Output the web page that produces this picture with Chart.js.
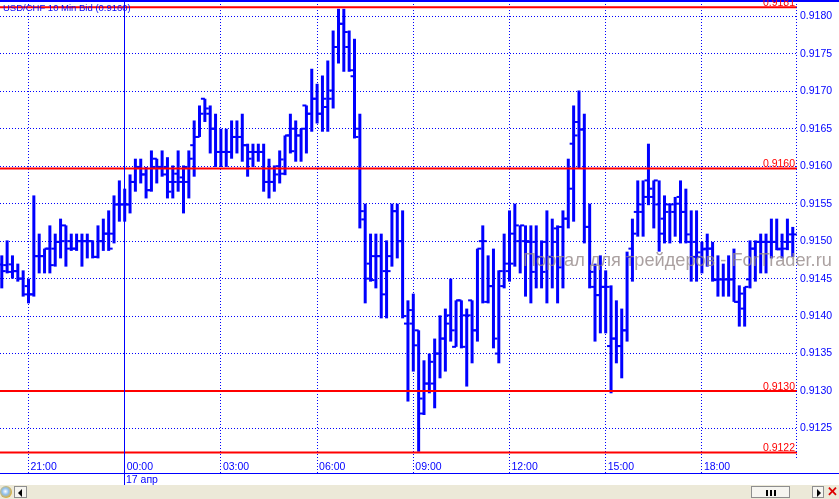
<!DOCTYPE html>
<html lang="ru">
<head>
<meta charset="UTF-8">
<title>USD/CHF 10 Min Bid</title>
<script src="https://cdn.jsdelivr.net/npm/chart.js@4"></script>
<style>
  html, body { margin: 0; padding: 0; background: #fff; }
  #wrap { position: relative; width: 839px; height: 499px; overflow: hidden; background: #fff; }
  #chart { position: absolute; left: 0; top: 0; }
  #bar { position: absolute; left: 0; top: 485px; width: 839px; height: 14px; background: #ece9d8; }
  #bar div { position: absolute; box-sizing: border-box; }
  .globe { left: 0; top: 1px; width: 12px; height: 12px; border-radius: 50%;
           background: radial-gradient(circle at 45% 45%, #fff 0, #8fc0ee 35%, #e6ac1c 75%); }
  .btn { top: 1px; height: 12px; border: 1px solid #8e8e8e; background: #f6f5f0; }
  .tri { position: absolute; top: 2px; width: 0; height: 0;
         border-top: 4px solid transparent; border-bottom: 4px solid transparent; }
  .tri.l { left: 3px; border-right: 4px solid #000; }
  .tri.r { left: 4px; border-left: 4px solid #000; }
  .grip { position: absolute; top: 3px; width: 2px; height: 6px; background: #000; }
  .close { left: 826px; top: 0; width: 13px; height: 14px; color: #d00;
           font: bold 13px/14px "Liberation Sans", Arial, sans-serif; text-align: center; }
</style>
</head>
<body>
<div id="wrap">
  <canvas id="chart" width="839" height="485"></canvas>
  <div id="bar">
    <div class="globe"></div>
    <div class="btn" style="left:14px;width:13px"><span class="tri l"></span></div>
    <div class="btn" style="left:751px;width:39px">
      <span class="grip" style="left:14px"></span><span class="grip" style="left:18px"></span><span class="grip" style="left:22px"></span>
    </div>
    <div class="btn" style="left:812px;width:12px"><span class="tri r"></span></div>
    <div class="close">✕</div>
  </div>
</div>

<script>
  const BLUE = '#0000ff';
  const RED = '#ff0000';
  const FONT = '"Liberation Sans", Arial, sans-serif';

  // 10 minute bars; slot 0 is 21:00, the first bar is at 20:10
  const FIRST_SLOT = -5;

  const opens = [
    0.91469, 0.91468, 0.91469, 0.91460, 0.91450, 0.91440,
    0.91429, 0.91480, 0.91480, 0.91490, 0.91490, 0.91499, 0.91521, 0.91500, 0.91490, 0.91500,
    0.91500, 0.91500, 0.91479, 0.91500, 0.91510, 0.91510, 0.91549, 0.91549, 0.91549, 0.91579,
    0.91599, 0.91589, 0.91568, 0.91610, 0.91599, 0.91599, 0.91579, 0.91590, 0.91585, 0.91579,
    0.91628, 0.91639, 0.91690, 0.91670, 0.91650, 0.91619, 0.91619, 0.91619, 0.91639, 0.91639,
    0.91628, 0.91619, 0.91619, 0.91619, 0.91579, 0.91579, 0.91600, 0.91590, 0.91641, 0.91650,
    0.91641, 0.91681, 0.91670, 0.91690, 0.91670, 0.91679, 0.91701, 0.91759, 0.91790, 0.91759,
    0.91720, 0.91650, 0.91529, 0.91470, 0.91480, 0.91480, 0.91460, 0.91480, 0.91540, 0.91500,
    0.91390, 0.91390, 0.91381, 0.91270, 0.91310, 0.91310, 0.91350, 0.91370, 0.91401, 0.91359,
    0.91421, 0.91401, 0.91421, 0.91381, 0.91500, 0.91419, 0.91440, 0.91350, 0.91440, 0.91460,
    0.91510, 0.91500, 0.91500, 0.91499, 0.91499, 0.91479, 0.91499, 0.91479, 0.91517, 0.91519,
    0.91530, 0.91630, 0.91659, 0.91649, 0.91519, 0.91439, 0.91428, 0.91439, 0.91360, 0.91370,
    0.91360, 0.91381, 0.91490, 0.91539, 0.91539, 0.91581, 0.91559, 0.91549, 0.91530, 0.91549,
    0.91539, 0.91559, 0.91539, 0.91499, 0.91499, 0.91479, 0.91490, 0.91490, 0.91449, 0.91449,
    0.91449, 0.91449, 0.91419, 0.91410, 0.91449, 0.91490, 0.91499, 0.91499, 0.91499, 0.91499,
    0.91490, 0.91499, 0.91509
  ];
  const highs = [
    0.91481, 0.91501, 0.91481, 0.91470, 0.91461, 0.91450,
    0.91561, 0.91510, 0.91490, 0.91521, 0.91510, 0.91530, 0.91521, 0.91510, 0.91510, 0.91510,
    0.91510, 0.91501, 0.91521, 0.91530, 0.91541, 0.91561, 0.91581, 0.91570, 0.91589, 0.91610,
    0.91610, 0.91599, 0.91621, 0.91610, 0.91621, 0.91612, 0.91601, 0.91621, 0.91601, 0.91621,
    0.91661, 0.91681, 0.91690, 0.91681, 0.91670, 0.91650, 0.91650, 0.91661, 0.91661, 0.91670,
    0.91630, 0.91630, 0.91630, 0.91630, 0.91610, 0.91601, 0.91621, 0.91641, 0.91670, 0.91661,
    0.91650, 0.91681, 0.91730, 0.91710, 0.91721, 0.91741, 0.91781, 0.91810, 0.91810, 0.91781,
    0.91770, 0.91670, 0.91550, 0.91510, 0.91510, 0.91510, 0.91501, 0.91550, 0.91550, 0.91541,
    0.91421, 0.91430, 0.91381, 0.91341, 0.91350, 0.91370, 0.91401, 0.91410, 0.91450, 0.91421,
    0.91421, 0.91410, 0.91421, 0.91490, 0.91521, 0.91481, 0.91490, 0.91461, 0.91510, 0.91541,
    0.91550, 0.91521, 0.91521, 0.91521, 0.91521, 0.91501, 0.91541, 0.91530, 0.91521, 0.91541,
    0.91610, 0.91681, 0.91701, 0.91670, 0.91550, 0.91470, 0.91481, 0.91461, 0.91441, 0.91421,
    0.91410, 0.91486, 0.91530, 0.91581, 0.91581, 0.91630, 0.91581, 0.91581, 0.91561, 0.91550,
    0.91559, 0.91581, 0.91570, 0.91541, 0.91541, 0.91499, 0.91510, 0.91499, 0.91481, 0.91470,
    0.91481, 0.91490, 0.91441, 0.91439, 0.91501, 0.91501, 0.91510, 0.91510, 0.91530, 0.91530,
    0.91510, 0.91530, 0.91519
  ];
  const lows = [
    0.91437, 0.91457, 0.91450, 0.91446, 0.91426, 0.91417,
    0.91426, 0.91457, 0.91457, 0.91457, 0.91466, 0.91477, 0.91466, 0.91487, 0.91487, 0.91466,
    0.91477, 0.91477, 0.91477, 0.91487, 0.91487, 0.91497, 0.91526, 0.91526, 0.91537, 0.91566,
    0.91577, 0.91557, 0.91566, 0.91577, 0.91586, 0.91557, 0.91557, 0.91566, 0.91537, 0.91557,
    0.91586, 0.91639, 0.91659, 0.91617, 0.91599, 0.91599, 0.91599, 0.91610, 0.91617, 0.91606,
    0.91586, 0.91599, 0.91606, 0.91566, 0.91557, 0.91566, 0.91577, 0.91588, 0.91617, 0.91606,
    0.91606, 0.91617, 0.91646, 0.91657, 0.91646, 0.91646, 0.91677, 0.91737, 0.91726, 0.91726,
    0.91637, 0.91517, 0.91417, 0.91446, 0.91437, 0.91397, 0.91397, 0.91466, 0.91477, 0.91397,
    0.91286, 0.91326, 0.91219, 0.91268, 0.91297, 0.91277, 0.91317, 0.91326, 0.91366, 0.91359,
    0.91357, 0.91306, 0.91337, 0.91366, 0.91417, 0.91417, 0.91357, 0.91337, 0.91437, 0.91446,
    0.91466, 0.91457, 0.91426, 0.91417, 0.91437, 0.91437, 0.91417, 0.91437, 0.91417, 0.91437,
    0.91517, 0.91526, 0.91597, 0.91497, 0.91437, 0.91366, 0.91377, 0.91377, 0.91297, 0.91337,
    0.91317, 0.91366, 0.91446, 0.91506, 0.91506, 0.91548, 0.91517, 0.91486, 0.91497, 0.91497,
    0.91506, 0.91497, 0.91497, 0.91446, 0.91446, 0.91457, 0.91466, 0.91446, 0.91426, 0.91426,
    0.91426, 0.91419, 0.91386, 0.91386, 0.91437, 0.91446, 0.91457, 0.91457, 0.91477, 0.91488,
    0.91477, 0.91488, 0.91479
  ];
  const closes = [
    0.91460, 0.91459, 0.91460, 0.91450, 0.91429, 0.91429,
    0.91480, 0.91480, 0.91490, 0.91468, 0.91499, 0.91500, 0.91490, 0.91490, 0.91500, 0.91500,
    0.91500, 0.91479, 0.91500, 0.91510, 0.91490, 0.91549, 0.91549, 0.91549, 0.91579, 0.91599,
    0.91589, 0.91568, 0.91599, 0.91599, 0.91589, 0.91566, 0.91579, 0.91579, 0.91599, 0.91610,
    0.91639, 0.91670, 0.91677, 0.91650, 0.91619, 0.91619, 0.91619, 0.91639, 0.91639, 0.91628,
    0.91610, 0.91619, 0.91619, 0.91579, 0.91579, 0.91589, 0.91609, 0.91641, 0.91620, 0.91641,
    0.91650, 0.91670, 0.91690, 0.91670, 0.91690, 0.91690, 0.91759, 0.91790, 0.91779, 0.91728,
    0.91639, 0.91540, 0.91450, 0.91448, 0.91480, 0.91429, 0.91460, 0.91540, 0.91500, 0.91400,
    0.91408, 0.91361, 0.91290, 0.91310, 0.91339, 0.91350, 0.91370, 0.91390, 0.91381, 0.91421,
    0.91359, 0.91401, 0.91381, 0.91490, 0.91500, 0.91440, 0.91370, 0.91460, 0.91470, 0.91470,
    0.91521, 0.91521, 0.91500, 0.91459, 0.91479, 0.91459, 0.91479, 0.91499, 0.91465, 0.91530,
    0.91570, 0.91641, 0.91649, 0.91519, 0.91459, 0.91428, 0.91439, 0.91439, 0.91370, 0.91360,
    0.91381, 0.91479, 0.91510, 0.91549, 0.91559, 0.91570, 0.91581, 0.91510, 0.91539, 0.91549,
    0.91550, 0.91539, 0.91509, 0.91479, 0.91485, 0.91489, 0.91490, 0.91448, 0.91449, 0.91449,
    0.91449, 0.91419, 0.91430, 0.91439, 0.91490, 0.91499, 0.91499, 0.91499, 0.91499, 0.91489,
    0.91490, 0.91499, 0.91509
  ];

  const hourSlots = [0, 18, 36, 54, 72, 90, 108, 126];
  const hourLabels = ['21:00', '00:00', '03:00', '06:00', '09:00', '12:00', '15:00', '18:00'];
  const priceTicks = [0.9125, 0.9130, 0.9135, 0.9140, 0.9145, 0.9150,
                      0.9155, 0.9160, 0.9165, 0.9170, 0.9175, 0.9180];
  const levels = [0.91812, 0.91597, 0.91300, 0.91218];   // red horizontal lines
  const daySlot = 18;
  const dayLabel = '17 апр';
  const titleText = 'USD/CHF 10 Min Bid (0.9160)';
  const watermark = 'Портал для трейдеров - ForTrader.ru';

  // visible window of the axes
  const X_MIN = -5.333, X_MAX = 143.795;
  const Y_MIN = 0.912080, Y_MAX = 0.918204;
  const TICK_SHIFT = 0.37;

  const slots = opens.map((_, k) => FIRST_SLOT + k);

  const decor = {
    id: 'decor',
    afterDraw(chart) {
      const { ctx, chartArea: a, scales: { x, y } } = chart;
      ctx.save();
      ctx.strokeStyle = BLUE;
      ctx.lineWidth = 1;

      // dotted right edge of the plot
      ctx.setLineDash([1, 2]);
      ctx.beginPath();
      ctx.moveTo(a.right - 0.5, a.top);
      ctx.lineTo(a.right - 0.5, a.bottom);
      ctx.stroke();
      ctx.setLineDash([]);

      // day separator
      const dx = Math.round(x.getPixelForValue(daySlot) - 0.5) + 0.5;
      ctx.beginPath();
      ctx.moveTo(dx, a.top);
      ctx.lineTo(dx, chart.height);
      ctx.stroke();

      ctx.fillStyle = BLUE;
      ctx.fillRect(0, 0, chart.width, 2);
      ctx.fillRect(0, a.bottom + 13, chart.width, 1);

      ctx.font = '10.5px ' + FONT;
      ctx.textAlign = 'left';
      ctx.textBaseline = 'alphabetic';
      ctx.fillText(dayLabel, dx + 1.5, 483);

      // level labels
      ctx.fillStyle = RED;
      ctx.textAlign = 'right';
      levels.forEach(v => {
        ctx.fillText(v.toFixed(4), a.right - 2, y.getPixelForValue(v) - 1.5);
      });

      // title
      ctx.fillStyle = BLUE;
      ctx.textAlign = 'left';
      ctx.font = '9.5px ' + FONT;
      ctx.fillText(titleText, 3, 11);

      // watermark
      ctx.font = '17px ' + FONT;
      const w = ctx.measureText(watermark).width;
      ctx.font = (17 * 309 / w).toFixed(2) + 'px ' + FONT;
      ctx.fillStyle = 'rgba(150, 138, 138, 0.8)';
      ctx.fillText(watermark, 523, 266);
      ctx.restore();
    }
  };

  const levelSets = levels.map(v => ({
    type: 'line',
    data: [{ x: X_MIN, y: v }, { x: X_MAX, y: v }],
    borderColor: RED,
    borderWidth: 2,
    pointRadius: 0,
    order: 0
  }));

  new Chart(document.getElementById('chart'), {
    type: 'scatter',
    data: {
      datasets: [
        ...levelSets,
        {
          type: 'scatter',
          data: slots.map((s, k) => ({ x: s - TICK_SHIFT, y: opens[k] })),
          pointStyle: 'line', pointRadius: 2, pointBorderWidth: 2,
          pointBorderColor: BLUE, pointBackgroundColor: BLUE,
          order: 1
        },
        {
          type: 'scatter',
          data: slots.map((s, k) => ({ x: s + TICK_SHIFT, y: closes[k] })),
          pointStyle: 'line', pointRadius: 2, pointBorderWidth: 2,
          pointBorderColor: BLUE, pointBackgroundColor: BLUE,
          order: 1
        },
        {
          type: 'bar',
          data: slots.map((s, k) => ({ x: s, y: [lows[k], highs[k]] })),
          backgroundColor: BLUE,
          borderWidth: 0,
          barThickness: 3,
          inflateAmount: 0,
          order: 2
        }
      ]
    },
    options: {
      responsive: false,
      animation: false,
      events: [],
      layout: { autoPadding: false, padding: { top: 1, left: 0, right: 0, bottom: 0 } },
      plugins: { legend: { display: false }, tooltip: { enabled: false } },
      scales: {
        x: {
          type: 'linear',
          position: 'bottom',
          min: X_MIN,
          max: X_MAX,
          offset: false,
          afterBuildTicks: s => { s.ticks = hourSlots.map(v => ({ value: v })); },
          afterFit: s => { s.height = 25; s.paddingLeft = 0; s.paddingRight = 0; },
          grid: {
            offset: false, color: BLUE, lineWidth: 1,
            drawTicks: true, tickLength: 13, tickColor: BLUE, tickWidth: 1, tickBorderDash: [1, 2]
          },
          border: { display: false, dash: [1, 2] },
          ticks: {
            align: 'start', labelOffset: 2, padding: -12,
            autoSkip: false, maxRotation: 0, minRotation: 0,
            color: BLUE, font: { family: FONT, size: 10.5 },
            callback: v => hourLabels[hourSlots.indexOf(v)]
          }
        },
        y: {
          type: 'linear',
          position: 'right',
          min: Y_MIN,
          max: Y_MAX,
          afterBuildTicks: s => { s.ticks = priceTicks.map(v => ({ value: v })); },
          afterFit: s => { s.width = 42; s.paddingTop = 0; s.paddingBottom = 0; },
          grid: { color: BLUE, lineWidth: 1, drawTicks: false },
          border: { display: false, dash: [1, 2] },
          ticks: {
            padding: 3, color: BLUE, font: { family: FONT, size: 10.5 },
            callback: v => v.toFixed(4)
          }
        }
      }
    },
    plugins: [decor]
  });
</script>
</body>
</html>
